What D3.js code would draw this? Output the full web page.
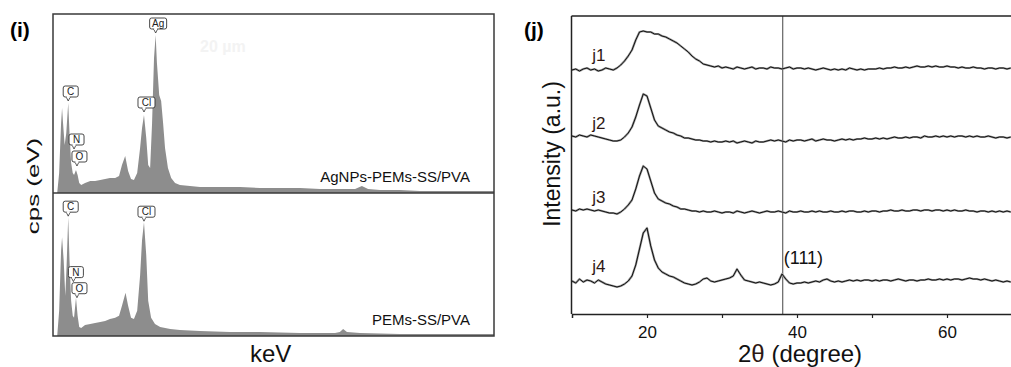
<!DOCTYPE html>
<html>
<head>
<meta charset="utf-8">
<script src="https://cdn.jsdelivr.net/npm/d3@7"></script>
<style>
  body { margin: 0; background: #fff; }
  svg { display: block; font-family: "Liberation Sans", Arial, sans-serif; }
</style>
</head>
<body>
<svg id="chart" width="1011" height="367"></svg>
<script>
// ---- EDS spectra (panel i) ----
const topKeV = [-0.06, 0.00, 0.06, 0.09, 0.12, 0.17, 0.22, 0.28, 0.32, 0.37, 0.42, 0.46, 0.52, 0.57, 0.62, 0.68,
  0.80, 0.96, 1.11, 1.27, 1.42, 1.57, 1.73, 1.85, 1.94, 2.04, 2.13, 2.22, 2.31, 2.41, 2.50, 2.56, 2.62, 2.69,
  2.75, 2.81, 2.87, 2.93, 2.98, 3.02, 3.09, 3.15, 3.21, 3.27, 3.36, 3.46, 3.58, 3.73, 4.04, 4.35, 4.97, 5.59,
  6.20, 6.82, 7.44, 8.06, 8.83, 9.14, 9.35, 9.54, 9.91, 10.52, 11.14, 11.76, 12.38, 13.00, 13.43];
const topCps = [0, 20, 70, 85, 70, 48, 60, 90, 60, 30, 20, 18, 23, 18, 10, 8,
  10, 12, 12, 13, 14, 15, 15, 17, 28, 37, 22, 14, 13, 20, 45, 65, 78, 55,
  28, 25, 70, 135, 158, 130, 98, 92, 70, 45, 25, 15, 10, 8, 7, 6, 6, 6,
  5, 5, 5, 4, 4, 4, 7, 4, 3, 3, 2, 2, 2, 2, 2];

const botKeV = [-0.06, 0.00, 0.06, 0.09, 0.14, 0.19, 0.23, 0.28, 0.32, 0.37, 0.42, 0.46, 0.52, 0.57, 0.62, 0.68,
  0.80, 0.96, 1.11, 1.27, 1.42, 1.57, 1.73, 1.85, 1.94, 2.05, 2.13, 2.22, 2.31, 2.41, 2.50, 2.56, 2.62, 2.69,
  2.75, 2.84, 2.96, 3.12, 3.43, 3.73, 4.35, 5.28, 6.20, 7.44, 8.52, 8.67, 8.77, 8.89, 9.29, 10.52, 11.76, 13.43];
const botCps = [0, 25, 85, 98, 75, 40, 70, 118, 75, 35, 20, 18, 38, 20, 9, 8,
  11, 12, 13, 14, 15, 17, 18, 20, 30, 43, 30, 18, 17, 25, 60, 95, 113, 80,
  35, 18, 12, 9, 7, 6, 5, 4, 4, 3, 3, 4, 7, 4, 3, 2, 2, 2];

const topLabels = [
  { el: "C", keV: 0.28, cps: 92 },
  { el: "N", keV: 0.46, cps: 44 },
  { el: "O", keV: 0.55, cps: 27 },
  { el: "Cl", keV: 2.62, cps: 81 },
  { el: "Ag", keV: 2.98, cps: 160 }
];
const botLabels = [
  { el: "C", keV: 0.28, cps: 119 },
  { el: "N", keV: 0.44, cps: 54 },
  { el: "O", keV: 0.55, cps: 38 },
  { el: "Cl", keV: 2.62, cps: 114 }
];
const spectraNames = ["AgNPs-PEMs-SS/PVA", "PEMs-SS/PVA"];

// ---- XRD patterns (panel j) ----
const twoTheta = d3.range(10, 68.75, 0.5);
const xrdNames = ["j1", "j2", "j3", "j4"];
const j1 = [10, 11, 9, 11, 12, 10, 11, 9, 10, 12, 11, 10, 12,
  15, 19, 24, 30, 40, 48, 49, 48, 48, 46, 46, 44, 43, 41, 39, 37, 34, 31, 28, 24, 21, 19, 16, 15, 14, 13, 14, 12, 13,
  12, 11, 13, 12, 11, 12, 13, 11, 12, 12, 11, 13, 12, 12, 11, 12, 13, 11, 12,
  12, 11, 12, 11, 10, 11, 12, 11, 10, 11, 10, 11, 10, 12, 11, 10, 11, 10, 11, 11,
  11, 12, 11, 12, 12, 13, 12, 12, 13, 12, 13, 14, 13, 13, 14, 13, 14, 13, 13, 14,
  13, 13, 12, 13, 12, 12, 13, 12, 12, 11, 12, 12, 11, 12, 12, 11, 12];
const j2 = [12, 11, 13, 12, 11, 13, 12, 11, 10, 9, 8, 7, 7,
  8, 11, 15, 21, 31, 43, 54, 52, 40, 28, 22, 20, 18, 16, 15, 13, 12, 10, 10, 9, 8, 8, 7, 7, 6, 7, 6, 6, 7,
  6, 7, 5, 6, 7, 6, 5, 7, 6, 6, 7, 8, 7, 8, 7, 6, 8, 7, 8,
  8, 7, 8, 9, 7, 8, 9, 8, 8, 7, 8, 9, 8, 9, 8, 9, 9, 10, 9, 9,
  10, 9, 10, 9, 10, 11, 10, 10, 11, 10, 11, 11, 10, 12, 11, 11, 12, 11, 12, 11,
  12, 11, 12, 12, 11, 12, 11, 12, 11, 11, 12, 11, 10, 11, 11, 10, 11];
const j3 = [12, 11, 13, 12, 13, 12, 11, 12, 11, 10, 9, 9, 8,
  10, 13, 17, 22, 33, 46, 56, 53, 41, 29, 23, 21, 19, 18, 16, 15, 13, 13, 12, 11, 11, 10, 11, 10, 10, 11, 10, 9, 10,
  10, 9, 11, 10, 9, 10, 11, 10, 9, 10, 11, 10, 10, 11, 10, 9, 11, 10, 10,
  11, 10, 10, 11, 10, 11, 10, 10, 11, 10, 10, 11, 10, 11, 11, 10, 10, 11, 10, 11,
  11, 10, 11, 11, 12, 11, 11, 12, 11, 11, 12, 12, 11, 12, 12, 11, 12, 12, 11, 12,
  11, 12, 11, 11, 12, 11, 11, 10, 11, 11, 10, 11, 10, 11, 10, 11, 10];
const j4 = [10, 8, 12, 9, 11, 10, 8, 11, 9, 7, 6, 5, 4,
  5, 7, 10, 15, 26, 42, 58, 63, 45, 31, 23, 19, 17, 15, 14, 12, 10, 8, 7, 6, 7, 9, 12, 13, 10, 9, 10, 11, 12,
  13, 15, 22, 16, 11, 10, 9, 8, 9, 8, 7, 6, 7, 9, 17, 12, 8, 7, 8,
  8, 9, 8, 9, 10, 9, 11, 12, 10, 9, 10, 9, 10, 11, 10, 11, 10, 11, 11, 10,
  11, 10, 11, 11, 10, 11, 12, 11, 10, 11, 11, 10, 11, 11, 12, 11, 11, 12, 11, 12,
  11, 12, 12, 11, 12, 13, 12, 12, 11, 12, 11, 10, 11, 10, 9, 10, 9];
const xrdSeries = [j1, j2, j3, j4];
const xTicks = [20, 30, 40, 50, 60];
const agPeak = 38.1; // Ag (111)

const svg = d3.select("#chart");
const brown = "#2e1814";

// ================= panel (i) =================
const eL = 53, eR = 494, eTop = 14, eMid = 193, eBot = 336;
const xE = d3.scaleLinear().domain([-0.19, 13.43]).range([eL, eR]);
const yTop = d3.scaleLinear().domain([0, 179]).range([eMid, eTop]);
const yBot = d3.scaleLinear().domain([0, 142]).range([eBot, eMid]);

// faint scale-bar text left over from the SEM image
svg.append("text").attr("x", 200).attr("y", 52).attr("font-size", 16).attr("font-weight", "bold")
  .attr("fill", "#f3f3f3").text("20 µm");

function spectrum(keV, cps, y, labels, name) {
  const pts = keV.map((k, i) => [k, cps[i]]);
  svg.append("path")
    .datum(pts)
    .attr("fill", "#8d8d8d")
    .attr("d", d3.area().x(d => xE(d[0])).y0(y(0)).y1(d => y(d[1]))(pts));

  labels.forEach(l => {
    const tx = xE(l.keV), ty = y(l.cps);
    const w = l.el.length > 1 ? 17 : 15, h = 11;
    const bx = tx - Math.round(w * 0.33), by = ty - 4 - h;
    const g = svg.append("g");
    g.append("path")
      .attr("d", `M${tx - 2},${by + h} L${tx},${ty} L${tx + 2},${by + h}`)
      .attr("fill", "#fff").attr("stroke", "#333").attr("stroke-width", 0.8);
    g.append("rect").attr("x", bx).attr("y", by).attr("width", w).attr("height", h)
      .attr("rx", 2).attr("fill", "#fff").attr("stroke", "#333").attr("stroke-width", 0.9);
    g.append("rect").attr("x", tx - 1.5).attr("y", by + h - 1).attr("width", 3).attr("height", 2).attr("fill", "#fff");
    g.append("text").attr("x", bx + w / 2).attr("y", by + h - 2)
      .attr("text-anchor", "middle").attr("font-size", 10).attr("fill", "#222").text(l.el);
  });

  svg.append("text")
    .attr("x", eR - 24).attr("y", y(0) - 11)
    .attr("text-anchor", "end").attr("font-size", 15).attr("fill", "#111")
    .text(name);
}

spectrum(topKeV, topCps, yTop, topLabels, spectraNames[0]);
spectrum(botKeV, botCps, yBot, botLabels, spectraNames[1]);

// frames
svg.append("rect").attr("x", eL).attr("y", eTop).attr("width", eR - eL).attr("height", eBot - eTop)
  .attr("fill", "none").attr("stroke", "#3a3a3a").attr("stroke-width", 1.5);
svg.append("line").attr("x1", eL).attr("x2", eR).attr("y1", eMid).attr("y2", eMid)
  .attr("stroke", "#3a3a3a").attr("stroke-width", 1.5);

svg.append("text").attr("x", 10).attr("y", 37).attr("font-size", 21).attr("font-weight", "bold").text("(i)");
svg.append("text")
  .attr("transform", "translate(39,186) rotate(-90) scale(1.08,0.68)")
  .attr("text-anchor", "middle").attr("font-size", 24).attr("fill", "#111").text("cps (eV)");
svg.append("text").attr("x", 250).attr("y", 362).attr("font-size", 24).attr("fill", "#111").text("keV");

// ================= panel (j) =================
const rL = 572, rR = 1011.5, rTop = 16, rBot = 314;
const xR = d3.scaleLinear().domain([10, 68.6]).range([rL, rR]);
const yR = d3.scaleLinear().domain([0, rBot - rTop]).range([rBot, rTop]);
const offsets = [234, 166, 92, 23];

svg.append("line").attr("x1", xR(agPeak)).attr("x2", xR(agPeak))
  .attr("y1", rTop).attr("y2", rBot).attr("stroke", "#444").attr("stroke-width", 1);

const line = d3.line().x(d => xR(d[0])).y(d => yR(d[1]));
xrdSeries.forEach((s, k) => {
  const pts = twoTheta.map((t, i) => [t, s[i] + offsets[k]]);
  svg.append("path").attr("d", line(pts))
    .attr("fill", "none").attr("stroke", "#999").attr("stroke-width", 2.2).attr("stroke-linejoin", "round");
  svg.append("path").attr("d", line(pts))
    .attr("fill", "none").attr("stroke", "#111").attr("stroke-width", 1).attr("stroke-linejoin", "round");
  svg.append("text")
    .attr("x", xR(12.7)).attr("y", yR(offsets[k] + 19))
    .attr("font-size", 17).attr("fill", brown).text(xrdNames[k]);
});

svg.append("text").attr("x", xR(agPeak) + 1).attr("y", yR(offsets[3] + 27))
  .attr("font-size", 18).attr("fill", "#111").text("(111)");

// axes
const xAxis = d3.axisBottom(xR).tickValues(xTicks).tickSize(4)
  .tickFormat(d => (d % 20 === 0 ? d : ""));
const gx = svg.append("g").attr("transform", `translate(0,${rBot})`).call(xAxis);
gx.select(".domain").attr("stroke", "#222").attr("stroke-width", 1.5);
gx.selectAll(".tick line").attr("stroke", "#222").attr("stroke-width", 1.2);
gx.selectAll(".tick text").attr("font-size", 17).attr("fill", "#111").attr("dy", "1.0em")
  .attr("font-family", "Liberation Sans, Arial, sans-serif");

svg.append("line").attr("x1", rL - 0.5).attr("x2", rL - 0.5).attr("y1", rTop).attr("y2", rBot)
  .attr("stroke", "#222").attr("stroke-width", 1.5);
svg.append("line").attr("x1", rL - 0.5).attr("x2", rR).attr("y1", rTop).attr("y2", rTop)
  .attr("stroke", "#222").attr("stroke-width", 1.5);

svg.append("text").attr("x", 524).attr("y", 37).attr("font-size", 21).attr("font-weight", "bold").text("(j)");
svg.append("text")
  .attr("transform", "translate(560,154) rotate(-90)")
  .attr("text-anchor", "middle").attr("font-size", 23).attr("fill", "#111").text("Intensity (a.u.)");

const xl = svg.append("text").attr("x", 738).attr("y", 362).attr("font-size", 24).attr("fill", "#111");
xl.append("tspan").text("2");
xl.append("tspan").attr("fill", brown).text("θ");
xl.append("tspan").text(" (degree)");
</script>
</body>
</html>
